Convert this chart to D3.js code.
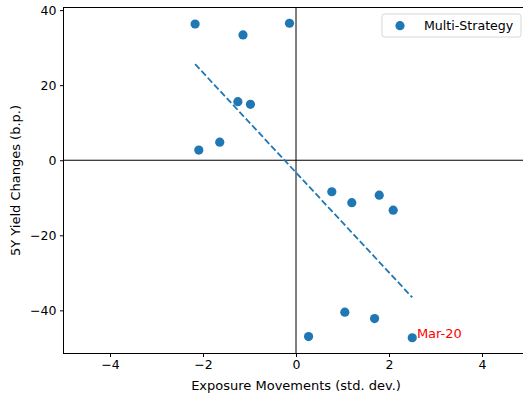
<!DOCTYPE html>
<html>
<head>
<meta charset="utf-8">
<script src="https://cdn.jsdelivr.net/npm/d3@7"></script>
<style>
  body { margin: 0; background: #fff; }
  svg { display: block; font-family: "DejaVu Sans", sans-serif; }
</style>
</head>
<body>
<svg id="chart" width="523" height="398"></svg>
<script>
// exposure movements (std. dev.) and 5Y yield changes (b.p.)
var xs = [-2.17, -1.14, -0.14, -1.25, -0.98, -2.09, -1.64, 0.77, 1.20, 1.79, 2.09, 1.05, 1.69, 0.27, 2.50];
var ys = [36.3, 33.4, 36.5, 15.6, 14.9, 2.7, 4.8, -8.4, -11.3, -9.3, -13.3, -40.5, -42.2, -47.0, -47.3];
var xTicks = [-4, -2, 0, 2, 4];
var yTicks = [-40, -20, 0, 20, 40];
var seriesName = "Multi-Strategy";
var noteLabel = "Mar-20";   // last point

var svg = d3.select("#chart"),
    blue = "#1f77b4";

var margin = {left: 63.5, top: 7.5};
var x = d3.scaleLinear().domain([-5, 5]).range([margin.left, 528.5]);
var y = d3.scaleLinear().domain([-51.5, 40.7]).range([353.5, margin.top]);

var pts = xs.map(function(v, i) { return {x: v, y: ys[i]}; });

// least squares fit
var mx = d3.mean(xs), my = d3.mean(ys);
var sxy = d3.sum(pts, function(d) { return (d.x - mx) * (d.y - my); });
var sxx = d3.sum(pts, function(d) { return (d.x - mx) * (d.x - mx); });
var slope = sxy / sxx, icpt = my - slope * mx;
var xr = d3.extent(xs);

// zero lines
svg.append("line")
    .attr("x1", x(0)).attr("x2", x(0))
    .attr("y1", y.range()[1]).attr("y2", y.range()[0])
    .attr("stroke", "#000").attr("stroke-width", 1);
svg.append("line")
    .attr("x1", x.range()[0]).attr("x2", x.range()[1])
    .attr("y1", y(0)).attr("y2", y(0))
    .attr("stroke", "#000").attr("stroke-width", 1);

// fitted line
svg.append("line")
    .attr("x1", x(xr[0])).attr("y1", y(icpt + slope * xr[0]))
    .attr("x2", x(xr[1])).attr("y2", y(icpt + slope * xr[1]))
    .attr("stroke", blue).attr("stroke-width", 1.8)
    .attr("stroke-dasharray", "6.5,2.8");

// points
svg.append("g").selectAll("circle")
    .data(pts)
  .enter().append("circle")
    .attr("cx", function(d) { return x(d.x); })
    .attr("cy", function(d) { return y(d.y); })
    .attr("r", 4.6)
    .attr("fill", blue);

// annotation on the last point
var last = pts[pts.length - 1];
svg.append("text")
    .attr("x", x(last.x + 0.1))
    .attr("y", y(last.y))
    .attr("fill", "red")
    .style("font-size", "13px")
    .text(noteLabel);

// spines
svg.append("rect")
    .attr("x", x.range()[0]).attr("y", y.range()[1])
    .attr("width", x.range()[1] - x.range()[0])
    .attr("height", y.range()[0] - y.range()[1])
    .attr("fill", "none").attr("stroke", "#000").attr("stroke-width", 1);

// axes
var fmt = function(d) { return d < 0 ? "\u2212" + Math.abs(d) : d; };
var xAxis = svg.append("g")
    .attr("transform", "translate(0," + y.range()[0] + ")")
    .call(d3.axisBottom(x).tickValues(xTicks).tickFormat(fmt).tickSize(3.5).tickPadding(3.5));
var yAxis = svg.append("g")
    .attr("transform", "translate(" + x.range()[0] + ",0)")
    .call(d3.axisLeft(y).tickValues(yTicks).tickFormat(fmt).tickSize(3.5).tickPadding(3.5));
[xAxis, yAxis].forEach(function(a) {
  a.select(".domain").remove();
  a.selectAll("text").style("font-size", "12.5px").style("font-family", "DejaVu Sans").attr("fill", "#000");
  a.selectAll("line").attr("stroke", "#000");
});

// axis labels
svg.append("text")
    .attr("x", x(0)).attr("y", 389.5)
    .style("text-anchor", "middle").style("font-size", "13px")
    .text("Exposure Movements (std. dev.)");
svg.append("text")
    .attr("transform", "translate(20," + ((y.range()[0] + y.range()[1]) / 2) + ") rotate(-90)")
    .style("text-anchor", "middle").style("font-size", "13px")
    .text("5Y Yield Changes (b.p.)");

// legend
var lg = svg.append("g").attr("transform", "translate(382,14)");
lg.append("rect")
    .attr("width", 139).attr("height", 23).attr("rx", 2.5)
    .attr("fill", "#fff").attr("fill-opacity", 0.8)
    .attr("stroke", "#d6d6d6").attr("stroke-width", 1);
lg.append("circle").attr("cx", 18).attr("cy", 11.7).attr("r", 4.6).attr("fill", blue);
lg.append("text").attr("x", 42).attr("y", 16.2).style("font-size", "12.6px").text(seriesName);
</script>
</body>
</html>
